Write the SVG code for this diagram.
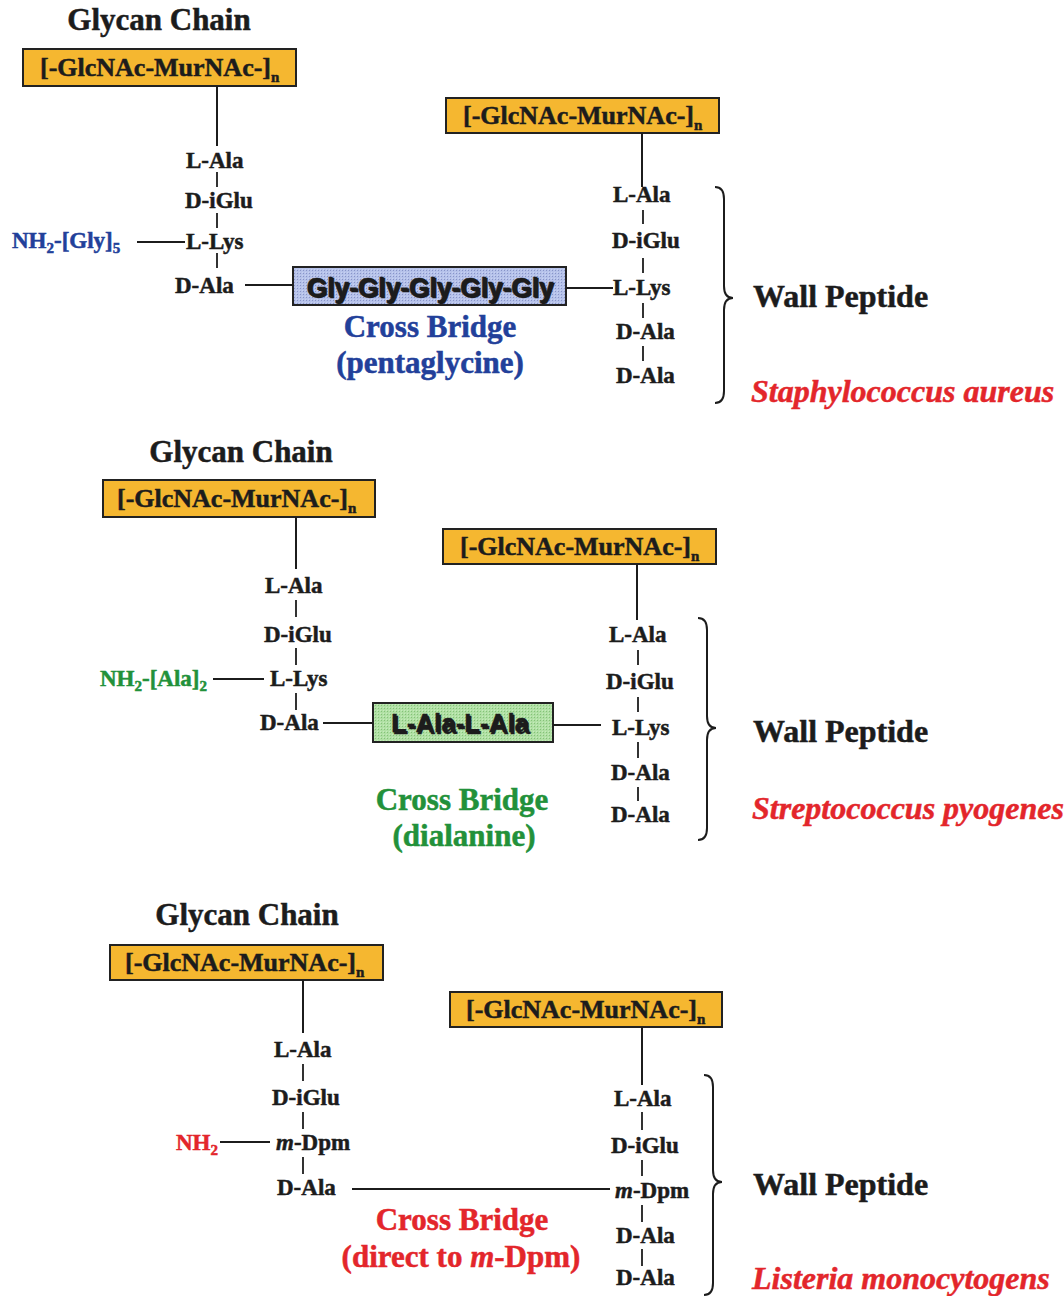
<svg xmlns="http://www.w3.org/2000/svg" width="1064" height="1296" viewBox="0 0 1064 1296">
<defs>
<style>
text{font-family:"Liberation Serif","Times New Roman",serif;font-weight:bold;fill:#1c1c1c;stroke:#1c1c1c;stroke-width:0.5}
.lbl{font-size:23px}
.head{font-size:31px}
.boxt{font-size:26px}
.sub{font-size:15px}
.wp{font-size:32px}
.sp{font-size:32px;font-style:italic;fill:#e3262b;stroke:#e3262b}
.cb{font-size:31px}
.blue{fill:#22409a;stroke:#22409a}
.green{fill:#22913a;stroke:#22913a}
.red{fill:#e3262b;stroke:#e3262b}
.sans{font-family:"Liberation Sans",Arial,sans-serif;font-weight:bold;stroke-width:0.3}
.gbox{fill:#f5b730;stroke:#222;stroke-width:2}
.ln{stroke:#1c1c1c;stroke-width:2;fill:none}
.tick{stroke:#1c1c1c;stroke-width:1.8;fill:none}
.brace{stroke:#1c1c1c;stroke-width:2;fill:none}
</style>
<pattern id="stipB" width="3" height="3" patternUnits="userSpaceOnUse"><rect width="3" height="3" fill="#b6c2ea"/><rect width="1" height="1" fill="#8894c8"/><rect x="2" y="2" width="1" height="1" fill="#c8d2f2"/></pattern>
<pattern id="stipG" width="3" height="3" patternUnits="userSpaceOnUse"><rect width="3" height="3" fill="#b0e0a4"/><rect width="1" height="1" fill="#84c278"/><rect x="2" y="2" width="1" height="1" fill="#c6ecbc"/></pattern>
</defs>

<!-- ===== Section 1: Staphylococcus aureus ===== -->
<g id="s1-heading"><text class="head" x="159" y="30" text-anchor="middle">Glycan Chain</text></g>
<g id="s1-glycan-left"><rect class="gbox" x="23" y="49" width="273" height="37"/><text class="boxt" x="40" y="76">[-GlcNAc-MurNAc-]<tspan class="sub" dy="6">n</tspan></text></g>
<g id="s1-glycan-right"><rect class="gbox" x="446" y="98" width="273" height="35"/><text class="boxt" x="463" y="124">[-GlcNAc-MurNAc-]<tspan class="sub" dy="6">n</tspan></text></g>
<g id="s1-l-ala"><text class="lbl" x="186" y="168">L-Ala</text></g>
<g id="s1-d-iglu"><text class="lbl" x="185" y="208">D-iGlu</text></g>
<g id="s1-l-lys"><text class="lbl" x="186" y="249">L-Lys</text></g>
<g id="s1-d-ala"><text class="lbl" x="175" y="293">D-Ala</text></g>
<g id="s1-nh2"><text class="lbl blue" x="12" y="248">NH<tspan class="sub" dy="5">2</tspan><tspan dy="-5">-[Gly]</tspan><tspan class="sub" dy="5">5</tspan></text></g>
<g id="s1-bridge"><rect x="293" y="267" width="273" height="38" fill="url(#stipB)" stroke="#222" stroke-width="2"/><text class="sans" x="431.5" y="298" font-size="27" text-anchor="middle" textLength="247" lengthAdjust="spacingAndGlyphs" fill="#8a93b8" stroke="#8a93b8">Gly-Gly-Gly-Gly-Gly</text><text class="sans" x="430" y="296.5" font-size="27" text-anchor="middle" textLength="247" lengthAdjust="spacingAndGlyphs" fill="#141a2e" stroke="#141a2e">Gly-Gly-Gly-Gly-Gly</text></g>
<g id="s1-bridge-label"><text class="cb blue" x="430" y="337" text-anchor="middle">Cross Bridge</text><text class="cb blue" x="430" y="373" text-anchor="middle">(pentaglycine)</text></g>
<g id="s1-r-l-ala"><text class="lbl" x="613" y="202">L-Ala</text></g>
<g id="s1-r-d-iglu"><text class="lbl" x="612" y="248">D-iGlu</text></g>
<g id="s1-r-l-lys"><text class="lbl" x="613" y="295">L-Lys</text></g>
<g id="s1-r-d-ala1"><text class="lbl" x="616" y="339">D-Ala</text></g>
<g id="s1-r-d-ala2"><text class="lbl" x="616" y="383">D-Ala</text></g>
<g id="s1-wall"><text class="wp" x="753" y="307">Wall Peptide</text></g>
<g id="s1-species"><text class="sp" x="751" y="402">Staphylococcus aureus</text></g>

<!-- ===== Section 2: Streptococcus pyogenes ===== -->
<g id="s2-heading"><text class="head" x="241" y="462" text-anchor="middle">Glycan Chain</text></g>
<g id="s2-glycan-left"><rect class="gbox" x="103" y="480" width="272" height="37"/><text class="boxt" x="117" y="507">[-GlcNAc-MurNAc-]<tspan class="sub" dy="6">n</tspan></text></g>
<g id="s2-glycan-right"><rect class="gbox" x="443" y="529" width="273" height="35"/><text class="boxt" x="460" y="555">[-GlcNAc-MurNAc-]<tspan class="sub" dy="6">n</tspan></text></g>
<g id="s2-l-ala"><text class="lbl" x="265" y="593">L-Ala</text></g>
<g id="s2-d-iglu"><text class="lbl" x="264" y="642">D-iGlu</text></g>
<g id="s2-l-lys"><text class="lbl" x="270" y="686">L-Lys</text></g>
<g id="s2-d-ala"><text class="lbl" x="260" y="730">D-Ala</text></g>
<g id="s2-nh2"><text class="lbl green" x="100" y="686">NH<tspan class="sub" dy="5">2</tspan><tspan dy="-5">-[Ala]</tspan><tspan class="sub" dy="5">2</tspan></text></g>
<g id="s2-bridge"><rect x="373" y="703" width="180" height="39" fill="url(#stipG)" stroke="#222" stroke-width="2"/><text class="sans" x="461.5" y="733.5" font-size="26" text-anchor="middle" textLength="138" lengthAdjust="spacingAndGlyphs" fill="#7fa878" stroke="#7fa878">L-Ala-L-Ala</text><text class="sans" x="460" y="732" font-size="26" text-anchor="middle" textLength="138" lengthAdjust="spacingAndGlyphs" fill="#141414" stroke="#141414">L-Ala-L-Ala</text></g>
<g id="s2-bridge-label"><text class="cb green" x="462" y="810" text-anchor="middle">Cross Bridge</text><text class="cb green" x="464" y="846" text-anchor="middle">(dialanine)</text></g>
<g id="s2-r-l-ala"><text class="lbl" x="609" y="642">L-Ala</text></g>
<g id="s2-r-d-iglu"><text class="lbl" x="606" y="689">D-iGlu</text></g>
<g id="s2-r-l-lys"><text class="lbl" x="612" y="735">L-Lys</text></g>
<g id="s2-r-d-ala1"><text class="lbl" x="611" y="780">D-Ala</text></g>
<g id="s2-r-d-ala2"><text class="lbl" x="611" y="822">D-Ala</text></g>
<g id="s2-wall"><text class="wp" x="753" y="742">Wall Peptide</text></g>
<g id="s2-species"><text class="sp" x="752" y="819">Streptococcus pyogenes</text></g>

<!-- ===== Section 3: Listeria monocytogenes ===== -->
<g id="s3-heading"><text class="head" x="247" y="925" text-anchor="middle">Glycan Chain</text></g>
<g id="s3-glycan-left"><rect class="gbox" x="110" y="945" width="273" height="35"/><text class="boxt" x="125" y="971">[-GlcNAc-MurNAc-]<tspan class="sub" dy="6">n</tspan></text></g>
<g id="s3-glycan-right"><rect class="gbox" x="450" y="992" width="272" height="35"/><text class="boxt" x="466" y="1018">[-GlcNAc-MurNAc-]<tspan class="sub" dy="6">n</tspan></text></g>
<g id="s3-l-ala"><text class="lbl" x="274" y="1057">L-Ala</text></g>
<g id="s3-d-iglu"><text class="lbl" x="272" y="1105">D-iGlu</text></g>
<g id="s3-m-dpm"><text class="lbl" x="276" y="1150"><tspan font-style="italic">m</tspan>-Dpm</text></g>
<g id="s3-d-ala"><text class="lbl" x="277" y="1195">D-Ala</text></g>
<g id="s3-nh2"><text class="lbl red" x="176" y="1150">NH<tspan class="sub" dy="5">2</tspan></text></g>
<g id="s3-bridge-label"><text class="cb red" x="462" y="1230" text-anchor="middle">Cross Bridge</text><text class="cb red" x="461" y="1267" text-anchor="middle">(direct to <tspan font-style="italic">m</tspan>-Dpm)</text></g>
<g id="s3-r-l-ala"><text class="lbl" x="614" y="1106">L-Ala</text></g>
<g id="s3-r-d-iglu"><text class="lbl" x="611" y="1153">D-iGlu</text></g>
<g id="s3-r-m-dpm"><text class="lbl" x="615" y="1198"><tspan font-style="italic">m</tspan>-Dpm</text></g>
<g id="s3-r-d-ala1"><text class="lbl" x="616" y="1243">D-Ala</text></g>
<g id="s3-r-d-ala2"><text class="lbl" x="616" y="1285">D-Ala</text></g>
<g id="s3-wall"><text class="wp" x="753" y="1195">Wall Peptide</text></g>
<g id="s3-species"><text class="sp" x="752" y="1289">Listeria monocytogens</text></g>

<!-- ===== Connectors ===== -->
<g id="connectors">
  <!-- section 1 -->
  <line class="ln" x1="217" y1="86" x2="217" y2="146"/>
  <line class="tick" x1="217" y1="172" x2="217" y2="187"/>
  <line class="tick" x1="217" y1="213" x2="217" y2="228"/>
  <line class="tick" x1="217" y1="253" x2="217" y2="268"/>
  <line class="ln" x1="137" y1="242" x2="185" y2="242"/>
  <line class="ln" x1="245" y1="285" x2="293" y2="285"/>
  <line class="ln" x1="566" y1="288" x2="613" y2="288"/>
  <line class="ln" x1="642" y1="133" x2="642" y2="187"/>
  <line class="tick" x1="643" y1="210" x2="643" y2="224"/>
  <line class="tick" x1="643" y1="258" x2="643" y2="273"/>
  <line class="tick" x1="643" y1="303" x2="643" y2="318"/>
  <line class="tick" x1="643" y1="346" x2="643" y2="361"/>
  <path class="brace" d="M715,187 Q724,187 724,199 L724,286 Q724,298 733,298 Q724,298 724,310 L724,391 Q724,403 715,403"/>
  <!-- section 2 -->
  <line class="ln" x1="296" y1="517" x2="296" y2="569"/>
  <line class="tick" x1="296" y1="600" x2="296" y2="617"/>
  <line class="tick" x1="296" y1="648" x2="296" y2="665"/>
  <line class="tick" x1="296" y1="693" x2="296" y2="710"/>
  <line class="ln" x1="213" y1="679" x2="264" y2="679"/>
  <line class="ln" x1="323" y1="723" x2="373" y2="723"/>
  <line class="ln" x1="553" y1="725" x2="601" y2="725"/>
  <line class="ln" x1="637" y1="564" x2="637" y2="620"/>
  <line class="tick" x1="638" y1="650" x2="638" y2="665"/>
  <line class="tick" x1="638" y1="697" x2="638" y2="712"/>
  <line class="tick" x1="638" y1="742" x2="638" y2="758"/>
  <line class="tick" x1="638" y1="787" x2="638" y2="801"/>
  <path class="brace" d="M698,618 Q707,618 707,630 L707,716 Q707,728 716,728 Q707,728 707,740 L707,828 Q707,840 698,840"/>
  <!-- section 3 -->
  <line class="ln" x1="303" y1="980" x2="303" y2="1033"/>
  <line class="tick" x1="303" y1="1064" x2="303" y2="1081"/>
  <line class="tick" x1="303" y1="1112" x2="303" y2="1129"/>
  <line class="tick" x1="303" y1="1157" x2="303" y2="1174"/>
  <line class="ln" x1="220" y1="1142" x2="270" y2="1142"/>
  <line class="ln" x1="352" y1="1189" x2="610" y2="1189"/>
  <line class="ln" x1="642" y1="1027" x2="642" y2="1085"/>
  <line class="tick" x1="642" y1="1112" x2="642" y2="1130"/>
  <line class="tick" x1="642" y1="1160" x2="642" y2="1176"/>
  <line class="tick" x1="642" y1="1205" x2="642" y2="1222"/>
  <line class="tick" x1="642" y1="1249" x2="642" y2="1266"/>
  <path class="brace" d="M704,1075 Q713,1075 713,1087 L713,1170 Q713,1182 722,1182 Q713,1182 713,1194 L713,1283 Q713,1295 704,1295"/>
</g>
</svg>
